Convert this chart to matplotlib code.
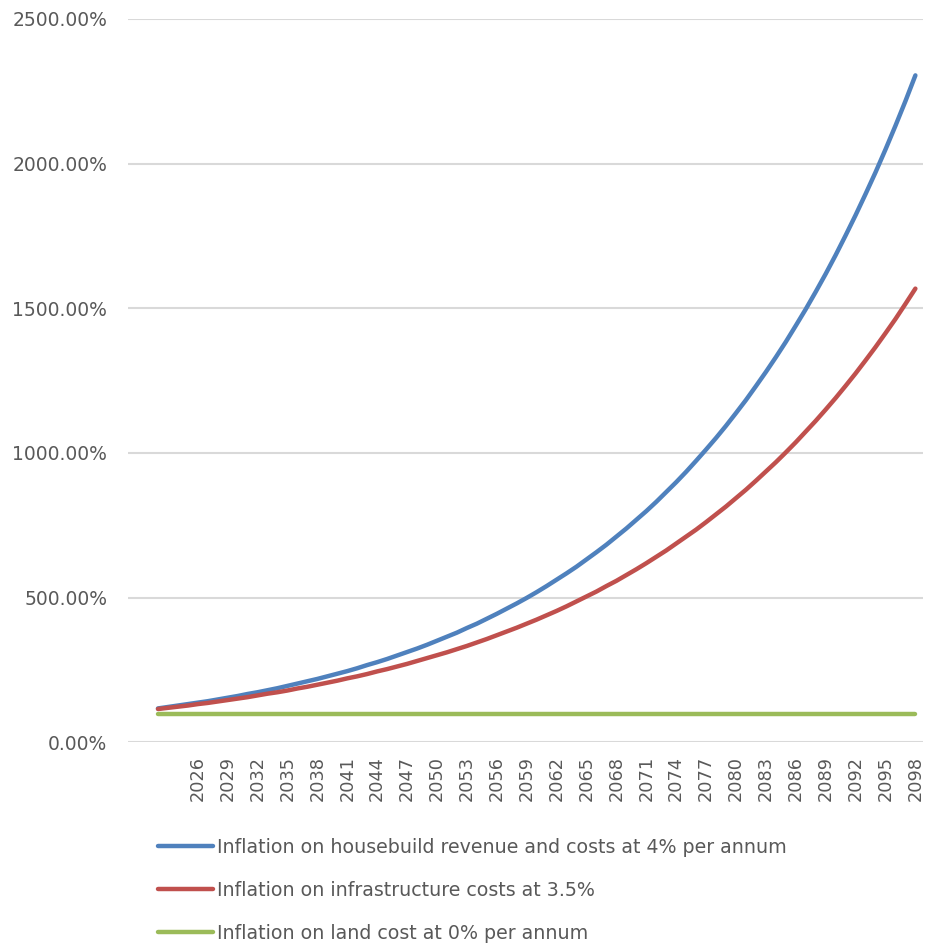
import numpy as np
import matplotlib.pyplot as plt
from matplotlib.ticker import FuncFormatter

# values (percent of base), one per year
years = list(range(2022, 2099))

housebuild = [
    117, 122, 127, 132, 137, 142, 148, 154, 160, 167,
    173, 180, 187, 195, 203, 211, 219, 228, 237, 246,
    256, 267, 277, 288, 300, 312, 324, 337, 351, 365,
    379, 395, 410, 427, 444, 462, 480, 499, 519, 540,
    562, 584, 607, 632, 657, 683, 711, 739, 769, 799,
    831, 865, 899, 935, 973, 1012, 1052, 1094, 1138, 1183,
    1231, 1280, 1331, 1384, 1440, 1497, 1557, 1619, 1684, 1752,
    1822, 1895, 1970, 2049, 2131, 2216, 2305,
]

infrastructure = [
    115, 119, 123, 127, 132, 136, 141, 146, 151, 156,
    162, 168, 173, 179, 186, 192, 199, 206, 213, 221,
    228, 236, 245, 253, 262, 271, 281, 291, 301, 311,
    322, 333, 345, 357, 370, 383, 396, 410, 424, 439,
    454, 470, 487, 504, 521, 540, 558, 578, 598, 619,
    641, 663, 687, 711, 735, 761, 788, 815, 844, 873,
    904, 936, 968, 1002, 1037, 1074, 1111, 1150, 1190, 1232,
    1275, 1320, 1366, 1414, 1463, 1515, 1568,
]

land = [98] * len(years)

labels = [
    "Inflation on housebuild revenue and costs at 4% per annum",
    "Inflation on infrastructure costs at 3.5%",
    "Inflation on land cost at 0% per annum",
]
colors = ["#4F81BD", "#C0504D", "#9BBB59"]
tick_years = list(range(2026, 2099, 3))
y_ticks = [0, 500, 1000, 1500, 2000, 2500]

text_grey = "#595959"

fig = plt.figure(figsize=(9.28, 9.48), dpi=100)
ax = fig.add_axes([0.138, 0.217, 0.857, 0.763])

for series, color, label in zip([housebuild, infrastructure, land], colors, labels):
    ax.plot(years, series, color=color, lw=3.2, label=label,
            solid_capstyle="round")

ax.set_xlim(2019.0, 2098.8)
ax.set_ylim(0, 2500)
ax.set_yticks(y_ticks)
ax.yaxis.set_major_formatter(FuncFormatter(lambda v, p: f"{v:.2f}%"))
ax.set_xticks(tick_years)
ax.set_xticklabels([str(y) for y in tick_years], rotation=90)

ax.grid(axis="y", color="#D9D9D9", lw=1.5)
ax.set_axisbelow(True)
for s in ax.spines.values():
    s.set_visible(False)
ax.tick_params(axis="y", length=0, pad=15, labelsize=13.5, labelcolor=text_grey)
ax.tick_params(axis="x", length=0, pad=10, labelsize=12.8, labelcolor=text_grey)

leg = fig.legend(loc="upper left", bbox_to_anchor=(0.162, 0.124), frameon=False,
                 fontsize=13.7, handlelength=2.9, handletextpad=0.2,
                 labelspacing=1.25, borderaxespad=0)
for t in leg.get_texts():
    t.set_color(text_grey)

fig.savefig("out.png", dpi=100)
